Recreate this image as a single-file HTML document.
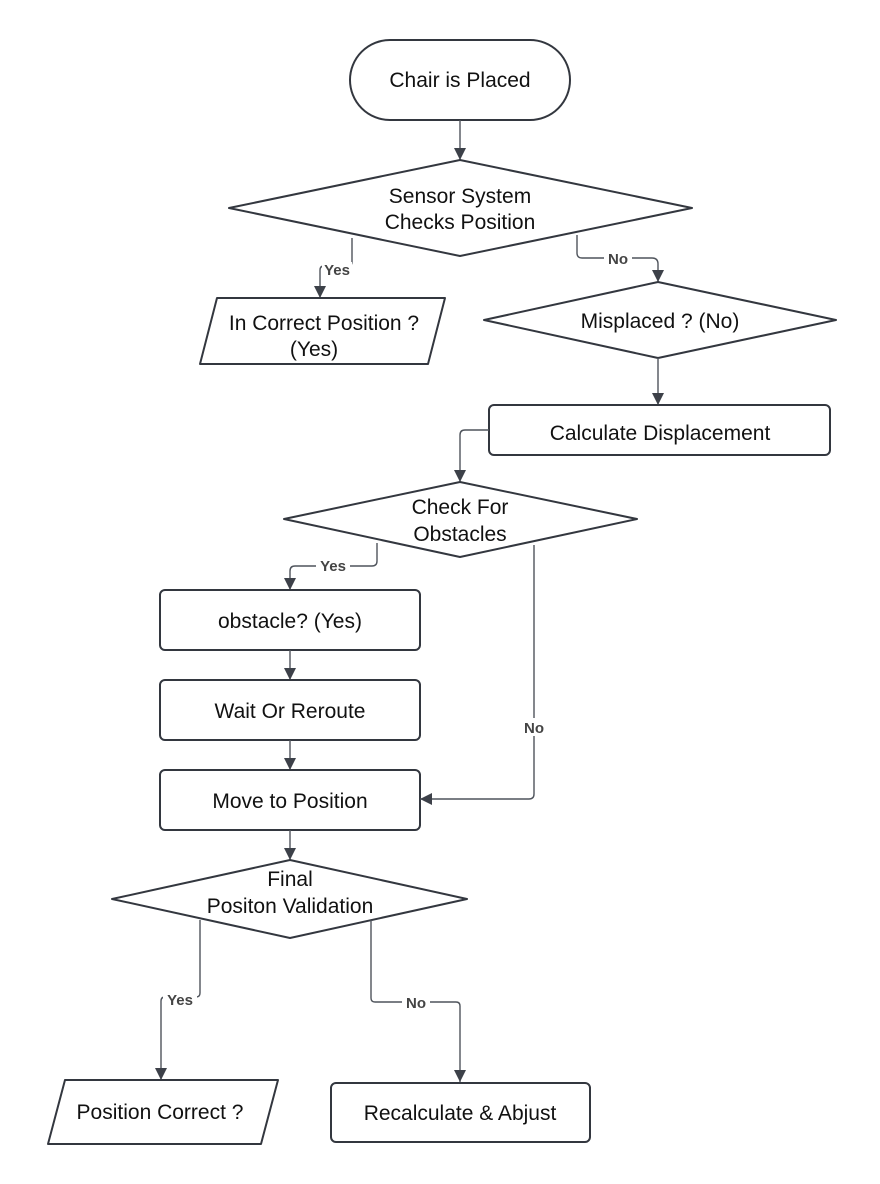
<!DOCTYPE html>
<html><head><meta charset="utf-8"><style>
html,body{margin:0;padding:0;background:#fff}
svg{display:block}
text{font-family:"Liberation Sans",sans-serif;fill:#111;}
.t{font-size:21px;text-anchor:middle}
.l{font-size:15px;font-weight:bold;text-anchor:middle;fill:#444}
.s{fill:#fff;stroke:#33373f;stroke-width:2}
.c{fill:none;stroke:#4f545c;stroke-width:1.4}
</style></head><body>
<svg width="880" height="1184" viewBox="0 0 880 1184" xmlns="http://www.w3.org/2000/svg">
<defs>
<marker id="ar" markerWidth="12" markerHeight="12" refX="10" refY="5" orient="auto" markerUnits="userSpaceOnUse" viewBox="0 0 10 10"><path d="M0,0 L10,5 L0,10 z" fill="#3d4149"/></marker></defs>

<rect class="s" x="350" y="40" width="220" height="80" rx="40"/>
<text class="t" x="460" y="87">Chair is Placed</text>
<path class="c" d="M460,120 V160" marker-end="url(#ar)"/>

<path class="s" d="M460,160 L692,208 L460,256 L229,208 Z" stroke-linejoin="round"/>
<text class="t" x="460" y="203">Sensor System</text>
<text class="t" x="460" y="229">Checks Position</text>

<path class="c" d="M352,238 V262 Q352,266 348,266 H324 Q320,266 320,270 V298" marker-end="url(#ar)"/>
<rect x="322" y="262" width="30" height="16" fill="#fff"/>
<text class="l" x="337" y="275">Yes</text>
<path class="s" d="M217,298 H445 L428,364 H200 Z" stroke-linejoin="round"/>
<text class="t" x="324" y="330">In Correct Position ?</text>
<text class="t" x="314" y="356">(Yes)</text>

<path class="c" d="M577,235 V253 Q577,258 582,258 H652 Q658,258 658,264 V282" marker-end="url(#ar)"/>
<rect x="604" y="250" width="28" height="16" fill="#fff"/>
<text class="l" x="618" y="264">No</text>
<path class="s" d="M658,282 L836,320 L658,358 L484,320 Z" stroke-linejoin="round"/>
<text class="t" x="660" y="328">Misplaced ? (No)</text>
<path class="c" d="M658,358 V405" marker-end="url(#ar)"/>

<rect class="s" x="489" y="405" width="341" height="50" rx="5"/>
<text class="t" x="660" y="440">Calculate Displacement</text>
<path class="c" d="M489,430 H465 Q460,430 460,435 V482" marker-end="url(#ar)"/>

<path class="s" d="M460,482 L637,519 L460,557 L284,519 Z" stroke-linejoin="round"/>
<text class="t" x="460" y="514">Check For</text>
<text class="t" x="460" y="541">Obstacles</text>

<path class="c" d="M377,543 V561 Q377,566 372,566 H295 Q290,566 290,571 V590" marker-end="url(#ar)"/>
<rect x="316" y="558" width="34" height="16" fill="#fff"/>
<text class="l" x="333" y="571">Yes</text>

<rect class="s" x="160" y="590" width="260" height="60" rx="5"/>
<text class="t" x="290" y="628">obstacle? (Yes)</text>
<path class="c" d="M290,650 V680" marker-end="url(#ar)"/>
<rect class="s" x="160" y="680" width="260" height="60" rx="5"/>
<text class="t" x="290" y="718">Wait Or Reroute</text>
<path class="c" d="M290,740 V770" marker-end="url(#ar)"/>
<rect class="s" x="160" y="770" width="260" height="60" rx="5"/>
<text class="t" x="290" y="808">Move to Position</text>

<path class="c" d="M534,545 V794 Q534,799 529,799 H420" marker-end="url(#ar)"/>
<rect x="520" y="718" width="28" height="18" fill="#fff"/>
<text class="l" x="534" y="733">No</text>

<path class="c" d="M290,830 V860" marker-end="url(#ar)"/>
<path class="s" d="M290,860 L467,899 L290,938 L112,899 Z" stroke-linejoin="round"/>
<text class="t" x="290" y="886">Final</text>
<text class="t" x="290" y="913">Positon Validation</text>

<path class="c" d="M200,920 V993 Q200,997 196,997 H165 Q161,997 161,1001 V1080" marker-end="url(#ar)"/>
<rect x="163" y="992" width="34" height="16" fill="#fff"/>
<text class="l" x="180" y="1005">Yes</text>
<path class="c" d="M371,920 V998 Q371,1002 375,1002 H456 Q460,1002 460,1006 V1082" marker-end="url(#ar)"/>
<rect x="402" y="995" width="28" height="16" fill="#fff"/>
<text class="l" x="416" y="1008">No</text>

<path class="s" d="M65,1080 H278 L261,1144 H48 Z" stroke-linejoin="round"/>
<text class="t" x="160" y="1119">Position Correct ?</text>
<rect class="s" x="331" y="1083" width="259" height="59" rx="5"/>
<text class="t" x="460" y="1120">Recalculate &amp; Abjust</text>
</svg>
</body></html>
